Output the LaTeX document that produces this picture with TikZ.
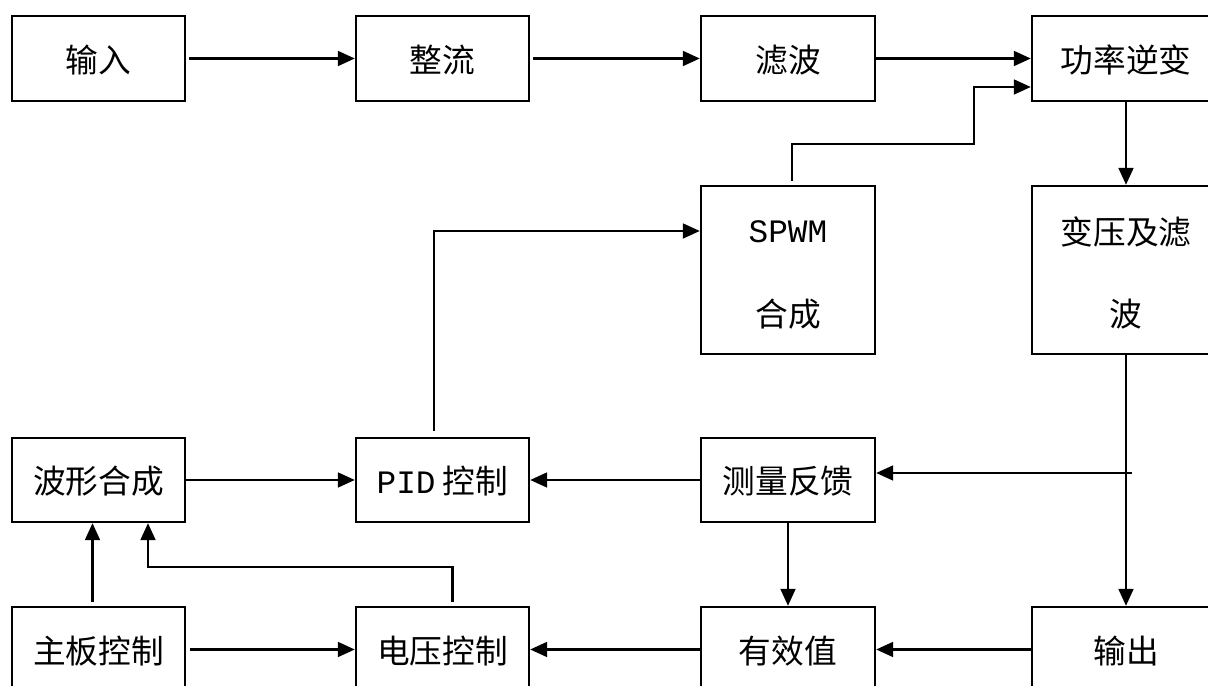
\documentclass[tikz,border=0pt]{standalone}
\usepackage{fontspec}
\setmainfont{Noto Sans CJK SC}
\newfontfamily\lat{Liberation Mono}
\usetikzlibrary{arrows.meta,calc}
\begin{document}
\begin{tikzpicture}[x=0.01cm,y=-0.01cm,
  box/.style={draw,line width=0.65pt,inner sep=0pt,align=center,
    font=\fontsize{9.3pt}{23pt}\selectfont,text height=8.6pt,text depth=0.9pt},
  txt/.style={inner sep=0pt,font=\fontsize{9.3pt}{11pt}\selectfont},
  colA/.style={minimum width=1.73cm},
  colC/.style={minimum width=1.74cm},
  colD/.style={minimum width=1.88cm},
  rowlow/.style={minimum height=0.85cm},
  rowtall/.style={minimum height=1.68cm},
  conn/.style={line width=0.65pt,-{Triangle[length=4.8pt,width=4.2pt]}}]
\useasboundingbox (0,0) rectangle (1208,686);
\fill[white] (0,0) rectangle (1208,686);
% row 1
\node[box,colA,rowlow] (in)  at (98.5,58.5)  {输入};
\node[box,colA,rowlow] (zl)  at (442.5,58.5) {整流};
\node[box,colC,rowlow] (lb)  at (788,58.5)   {滤波};
\node[box,colD,rowlow] (gl)  at (1126,58.5)  {功率逆变};
% row 2
\node[box,colC,rowtall] (sp) at (788,270)    {};
\node[txt] (sp1) at (788,232) {\lat SPWM};
\node[txt] (sp2) at (788,314) {合成};
\node[box,colD,rowtall] (by) at (1126,270)   {};
\node[txt] (by1) at (1126,232) {变压及滤};
\node[txt] (by2) at (1126,314) {波};
% row 3
\node[box,colA,minimum height=0.84cm] (bx)  at (98.5,480)  {波形合成};
\node[box,colA,minimum height=0.84cm] (pid) at (442.5,480) {{\lat PID} 控制};
\node[box,colC,minimum height=0.84cm] (cl)  at (788,480)   {测量反馈};
% row 4
\node[box,colA,rowlow] (zb)  at (98.5,649.5)  {主板控制};
\node[box,colA,rowlow] (dy)  at (442.5,649.5) {电压控制};
\node[box,colC,rowlow] (yx)  at (788,649.5)   {有效值};
\node[box,colD,rowlow] (out) at (1126,649.5)  {输出};
% connectors
\coordinate (k1) at (974,144);
\coordinate (k2) at (148,567);
\coordinate (br) at (1132,473);
\draw[conn] ($(in.east)+(3,0)$) -- (zl.west);
\draw[conn] ($(zl.east)+(3,0)$) -- (lb.west);
\draw[conn] (lb.east) -- (gl.west);
\draw[conn] ($(sp.north)+(4,-4)$) |- (k1) |- ($(gl.west)+(0,28.5)$);
\draw[conn] (gl.south) -- (by.north);
\draw[conn] (by.south) -- (out.north);
\draw[conn] (br) -- (cl.east |- br);
\draw[conn] (cl.south) -- (yx.north);
\draw[conn] (out.west) -- (yx.east);
\draw[conn] (yx.west) -- (dy.east);
\draw[conn] ($(zb.east)+(4,0)$) -- (dy.west);
\draw[conn] ($(zb.north)+(-6,-4)$) -- ($(bx.south)+(-6,0)$);
\draw[conn] ($(dy.north)+(10,-4)$) |- (k2) -- (k2 |- bx.south);
\draw[conn] (bx.east) -- (pid.west);
\draw[conn] (cl.west) -- (pid.east);
\draw[conn] ($(pid.north)+(-8.5,-6)$) |- ($(sp.west)+(0,-39)$);
\end{tikzpicture}
\end{document}
